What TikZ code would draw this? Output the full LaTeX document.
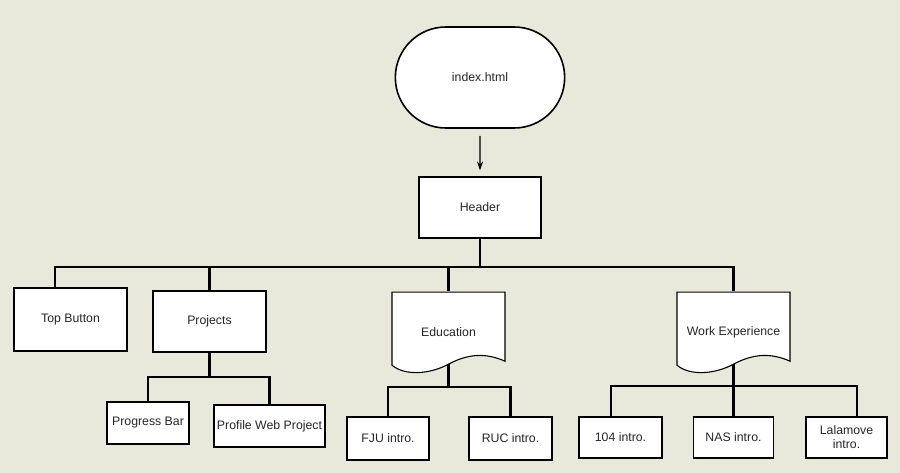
\documentclass[tikz,border=0pt]{standalone}
\usepackage{fontspec}
\setmainfont{Liberation Sans}
\usetikzlibrary{shapes.misc,arrows.meta,backgrounds}
\definecolor{paper}{RGB}{233,233,219}

\newcommand{\docoutline}[1]{%
  \draw[line width=1.1pt,fill=white]
    ([shift={(-56.5,-9)}]#1.south) .. controls ([shift={(-43.5,2)}]#1.south) and ([shift={(-18.5,0)}]#1.south) .. ([shift={(0,-10)}]#1.south)
    .. controls ([shift={(18.5,-20)}]#1.south) and ([shift={(36.5,-22)}]#1.south) .. ([shift={(56.5,-13)}]#1.south)
    -- ([shift={(56.5,-82)}]#1.south) -- ([shift={(-56.5,-82)}]#1.south) -- cycle;}

\begin{document}
\begin{tikzpicture}[x=1pt,y=-1pt,>={Stealth[length=9pt,width=6pt]},
  every node/.style={font=\fontsize{12.3}{14}\selectfont,text=black!85},
  box/.style={draw,line width=1.1pt,fill=white,inner sep=2pt},
  term/.style={rounded rectangle,draw,line width=1.6pt,fill=white,minimum width=176pt,minimum height=101pt},
  doc/.style={minimum width=115pt,minimum height=83pt,inner sep=0pt},
  bus/.style={line width=2.7pt}]
\begin{pgfonlayer}{background}
\fill[paper] (0,0) rectangle (900,473);
\end{pgfonlayer}

\node[term] (index) at (480,77.5) {index.html};
\node[box,minimum width=122pt,minimum height=61pt] (header) at (480,207.5) {Header};

\node[box,minimum width=113pt,minimum height=63pt] (top) at (70.5,319.5) {Top Button};
\node[box,minimum width=113pt,minimum height=61pt] (proj) at (209.5,321.5) {Projects};
\node[doc] (edu) at (448.5,332.5) {Education};
\node[doc] (work) at (733.5,332.5) {Work Experience};

\node[box,minimum width=82pt,minimum height=42pt] (pbar) at (148,423) {Progress Bar};
\node[box,minimum width=111pt,minimum height=42pt] (pweb) at (269.5,426) {Profile Web Project};
\node[box,minimum width=82pt,minimum height=43pt] (fju) at (388,438.5) {FJU intro.};
\node[box,minimum width=83pt,minimum height=43pt] (ruc) at (510.5,438.5) {RUC intro.};
\node[box,minimum width=83pt,minimum height=41pt] (i104) at (620.5,437.5) {104 intro.};
\node[box,minimum width=80pt,minimum height=41pt] (nas) at (733.5,437.5) {NAS intro.};
\node[box,minimum width=81pt,minimum height=41pt,align=center] (lala) at (846.5,437.5) {Lalamove\\intro.};

\begin{pgfonlayer}{background}
\docoutline{edu}
\docoutline{work}
\end{pgfonlayer}

\coordinate (hub) at (480,267);
\coordinate (projhub) at (209.5,377);
\coordinate (eduhub) at (448.5,387);
\coordinate (workhub) at (733.5,386);

\draw[->,line width=1.1pt,shorten <=7pt,shorten >=6pt] (index) -- (header);
\draw[bus] (header.south) -- (hub);
\draw[bus] ([xshift=-15.5pt]top.north) |- (hub) -| (work.north);
\draw[bus] (proj.north) -- (proj.north |- hub);
\draw[bus] (edu.north) -- (edu.north |- hub);

\draw[bus] (proj.south) -- (projhub);
\draw[bus] (pbar.north) |- (projhub) -| (pweb.north);
\draw[bus] ([yshift=10pt]edu.south) -- (eduhub);
\draw[bus] (fju.north) |- (eduhub) -| (ruc.north);
\draw[bus] ([yshift=10pt]work.south) -- (nas.north);
\draw[bus] ([xshift=-9.5pt]i104.north) |- (workhub) -| ([xshift=10.5pt]lala.north);
\end{tikzpicture}
\end{document}
